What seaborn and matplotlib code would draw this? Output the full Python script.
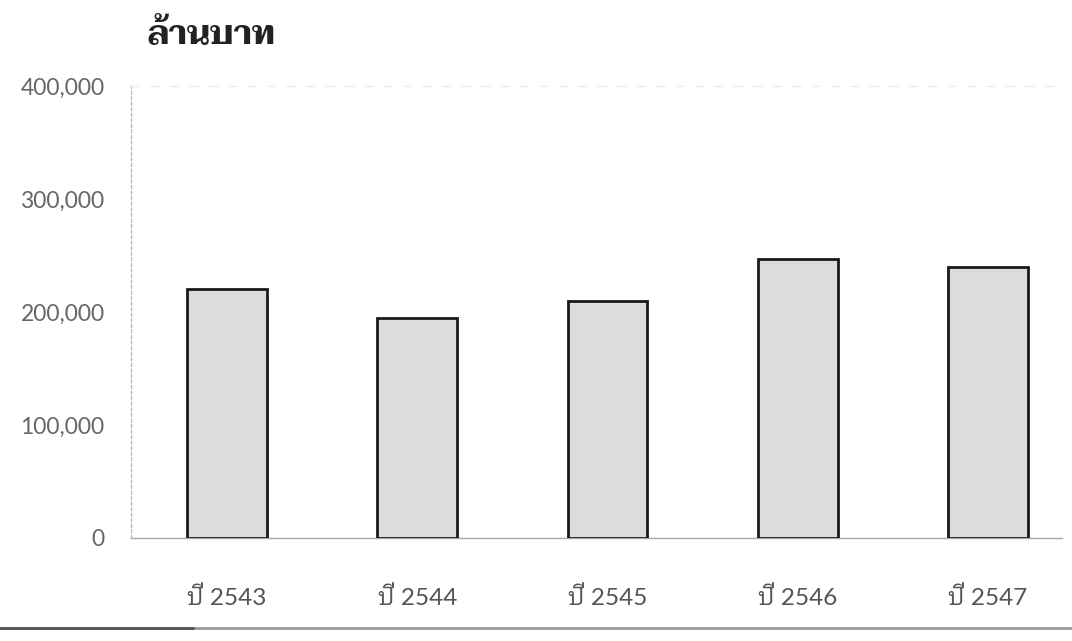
import matplotlib
matplotlib.use("Agg")
import matplotlib.pyplot as plt
from matplotlib.lines import Line2D
from matplotlib.ticker import FuncFormatter
import seaborn as sns
import pandas as pd

# Annual totals, million baht
years = ["ปี 2543", "ปี 2544", "ปี 2545", "ปี 2546", "ปี 2547"]
values = [220000, 195000, 210000, 247000, 240000]
y_ticks = [0, 100000, 200000, 300000, 400000]
unit_label = "ล้านบาท"

df = pd.DataFrame({"year": years, "value": values})

sns.set_theme(style="white")
tick_family = ["Lato", "IBM Plex Sans Thai Looped", "DejaVu Sans"]
title_family = ["Taviraj", "DejaVu Serif"]

fig = plt.figure(figsize=(10.72, 6.41), dpi=100)
ax = fig.add_axes([0.1222, 0.1607, 0.8685, 0.7050])

sns.barplot(data=df, x="year", y="value", ax=ax, color="#dcdcdc",
            width=0.42, edgecolor="#1a1a1a", linewidth=2.0, saturation=1)

ax.set_xlim(-0.505, 4.39)
ax.set_ylim(0, 400000)
ax.set_yticks(y_ticks)
ax.yaxis.set_major_formatter(FuncFormatter(lambda v, p: f"{int(v):,}"))
ax.set_xlabel("")
ax.set_ylabel("")

for lab in ax.get_yticklabels():
    lab.set_family(tick_family)
    lab.set_fontsize(16.5)
    lab.set_color("#666666")
for lab in ax.get_xticklabels():
    lab.set_family(tick_family)
    lab.set_fontsize(17.5)
    lab.set_color("#555555")

ax.tick_params(axis="y", length=0, pad=19)
ax.tick_params(axis="x", length=0, pad=35)

# Frame: faint dotted left and top edges, light grey baseline
ax.spines["right"].set_visible(False)
ax.spines["left"].set_color("#b8b8b8")
ax.spines["left"].set_linestyle((0, (2, 2)))
ax.spines["left"].set_linewidth(1.0)
ax.spines["top"].set_color("#ececec")
ax.spines["top"].set_linestyle((0, (6, 8)))
ax.spines["top"].set_linewidth(1.0)
ax.spines["bottom"].set_color("#a8a8a8")
ax.spines["bottom"].set_linewidth(1.0)
for p in ax.patches:
    p.set_zorder(3)

fig.text(147 / 1072, 1 - 35 / 641, unit_label, family=title_family,
         fontsize=24, fontweight="bold", color="#222222", va="center", ha="left")

# Rule across the foot of the page
fig.add_artist(Line2D([0.0, 1.0], [1 - 628 / 641, 1 - 628 / 641],
                      transform=fig.transFigure, color="#9a9a9a", linewidth=2.0))
fig.add_artist(Line2D([0.0, 0.18], [1 - 628 / 641, 1 - 628 / 641],
                      transform=fig.transFigure, color="#555555", linewidth=2.0))

fig.savefig("out.png", dpi=100)
